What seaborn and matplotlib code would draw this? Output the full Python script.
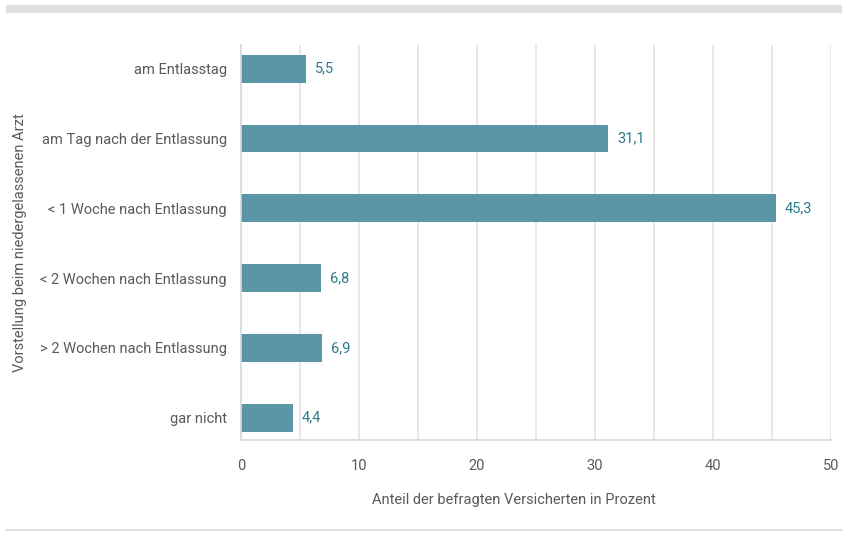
import matplotlib
matplotlib.use('Agg')
import pandas as pd
import matplotlib.pyplot as plt
import seaborn as sns
from matplotlib.patches import Rectangle
from matplotlib.lines import Line2D

categories = ['am Entlasstag', 'am Tag nach der Entlassung', '< 1 Woche nach Entlassung',
              '< 2 Wochen nach Entlassung', '> 2 Wochen nach Entlassung', 'gar nicht']
values = [5.5, 31.1, 45.3, 6.8, 6.9, 4.4]
labels = ['5,5', '31,1', '45,3', '6,8', '6,9', '4,4']

df = pd.DataFrame({'kategorie': categories, 'anteil': values})

sns.set_style('white')
plt.rcParams['font.family'] = ['Roboto', 'DejaVu Sans']
grey = '#5a5a5a'

fig = plt.figure(figsize=(8.48, 5.33), dpi=100)
ax = fig.add_axes([241/848, 1-440/533, 590/848, 395/533])

sns.barplot(data=df, y='kategorie', x='anteil', orient='h', color='#5b96a6',
            saturation=1, width=0.4, linewidth=0, ax=ax)

for i, (v, t) in enumerate(zip(values, labels)):
    ax.annotate(t, (v, i), xytext=(6.5, 0), textcoords='offset points',
                va='center', ha='left', fontsize=10.5, color='#2a7b8c')

ax.set_xlim(0, 50)
ax.set_ylim(5.32, -0.34)
ax.set_xticks(range(0, 51, 10))
ax.set_xticks(range(0, 51, 5), minor=True)
ax.grid(axis='x', which='both', color='#e3e3e3', lw=1.2)
ax.set_axisbelow(True)
ax.tick_params(axis='both', which='both', length=0, labelsize=10.5, colors=grey)
ax.tick_params(axis='x', pad=14)
ax.tick_params(axis='y', pad=10)
for s in ['top', 'right']:
    ax.spines[s].set_visible(False)
for s in ['left', 'bottom']:
    ax.spines[s].set_color('#d8d8d8')
    ax.spines[s].set_linewidth(1.2)

ax.set_xlabel('Anteil der befragten Versicherten in Prozent', fontsize=10.5, color=grey)
ax.xaxis.set_label_coords((514-241)/590, -53/395)
ax.set_ylabel('Vorstellung beim niedergelassenen Arzt', fontsize=10.5, color=grey)
ax.yaxis.set_label_coords(-(241-27.5)/590, 0.5)

fig.add_artist(Rectangle((6/848, 1-13/533), 836/848, 8/533, transform=fig.transFigure,
                         color='#e0e0e0', lw=0))
fig.add_artist(Line2D([6/848, 842/848], [1-530/533]*2, transform=fig.transFigure,
                      color='#e0e0e0', lw=1.5))

fig.savefig('out.png', dpi=100)
